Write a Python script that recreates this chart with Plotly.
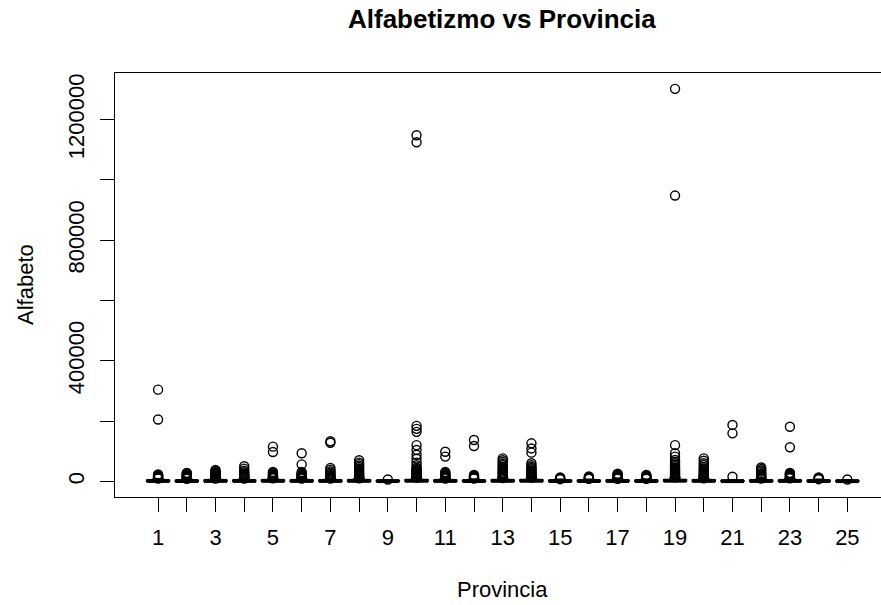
import plotly.graph_objects as go

provincias = list(range(1, 26))
tick_labels = [str(p) if p % 2 == 1 else "" for p in provincias]

# five-number summaries (box is tiny near zero)
q1 = [300, 250, 350, 300, 400, 350, 300, 400, 200, 500, 350, 250, 450, 500, 200, 250, 300, 250, 600, 400, 150, 300, 350, 200, 150]
mediana = [1200, 1000, 1300, 1200, 1500, 1300, 1200, 1500, 800, 1800, 1300, 1000, 1600, 1800, 900, 1000, 1100, 1000, 2000, 1400, 700, 1100, 1300, 900, 700]
q3 = [3500, 3000, 3800, 3500, 4200, 3800, 3500, 4300, 2200, 5000, 3700, 3000, 4500, 5000, 2800, 3000, 3200, 3000, 5500, 4000, 2000, 3300, 3800, 2800, 2000]
bigote_inf = [0] * 25
bigote_sup = [8000, 7000, 8500, 8000, 9500, 8500, 8000, 9500, 5000, 11000, 8500, 7000, 10000, 11000, 6500, 7000, 7500, 7000, 12000, 9000, 4500, 7500, 8500, 6500, 4500]

# outliers per province
atipicos = {
    1: [9000, 10500, 12000, 13500, 15000, 16500, 18000, 19500, 21000, 22500, 205000, 304000],
    2: [8000, 10000, 12000, 14000, 16000, 18000, 20000, 23000, 26000, 28000],
    3: [9000, 11000, 13000, 15000, 17000, 19000, 22000, 25000, 28000, 31000, 34000, 38000],
    4: [9000, 11000, 13000, 15000, 17000, 20000, 23000, 26000, 30000, 35000, 42000, 50000],
    5: [10000, 12000, 14000, 16000, 18000, 20000, 22000, 25000, 28000, 31000, 97000, 115000],
    6: [9000, 11000, 13000, 15000, 17000, 19000, 21000, 24000, 27000, 31000, 56000, 93000],
    7: [9000, 11000, 13000, 15000, 18000, 21000, 25000, 29000, 33000, 38000, 44000, 128000, 133000],
    8: [10000, 12000, 14000, 16000, 18000, 21000, 24000, 27000, 30000, 34000, 38000, 43000, 48000, 52000, 57000, 62000, 70000],
    9: [6000],
    10: [12000, 14000, 16000, 18000, 20000, 23000, 26000, 29000, 32000, 35000, 38000, 41000, 45000, 53000, 62000, 75000, 88000, 104000, 120000, 164000, 174000, 184000, 1125000, 1148000],
    11: [9000, 11000, 13000, 15000, 17000, 19000, 22000, 25000, 28000, 31000, 82000, 98000],
    12: [9000, 11000, 13000, 15000, 17000, 19000, 21000, 117000, 137000],
    13: [11000, 14000, 17000, 20000, 24000, 28000, 32000, 36000, 40000, 44000, 48000, 53000, 58000, 64000, 70000, 76000],
    14: [12000, 14000, 16000, 18000, 21000, 24000, 27000, 30000, 33000, 36000, 40000, 44000, 48000, 53000, 60000, 95000, 109000, 126000],
    15: [7000, 9000, 11000, 13000],
    16: [8000, 10000, 12000, 14000, 16000],
    17: [8000, 10000, 12000, 14000, 16000, 18000, 20000, 22000, 25000],
    18: [8000, 10000, 12000, 14000, 16000, 18000, 21000],
    19: [13000, 15000, 17000, 19000, 21000, 23000, 26000, 29000, 32000, 35000, 38000, 41000, 45000, 50000, 55000, 60000, 65000, 71000, 82000, 93000, 120000, 948000, 1302000],
    20: [10000, 12000, 14000, 16000, 18000, 20000, 23000, 26000, 30000, 34000, 39000, 43000, 48000, 54000, 60000, 68000, 76000],
    21: [15000, 159000, 187000],
    22: [9000, 11000, 13000, 15000, 18000, 21000, 24000, 27000, 32000, 36000, 41000, 46000],
    23: [10000, 12000, 14000, 16000, 18000, 20000, 22000, 24000, 26000, 28000, 113000, 181000],
    24: [7000, 9000, 11000, 13000],
    25: [6000],
}

y_ticks = [0, 200000, 400000, 600000, 800000, 1000000, 1200000]
y_ticktext = ["0", "", "400000", "", "800000", "", "1200000"]

FONT = "Liberation Sans, Arial, sans-serif"

fig = go.Figure()

fig.add_trace(go.Box(
    x=provincias, q1=q1, median=mediana, q3=q3,
    lowerfence=bigote_inf, upperfence=bigote_sup,
    boxpoints=False, width=0.8, whiskerwidth=0.5,
    fillcolor="white", line=dict(color="black", width=1.5),
    showlegend=False, hoverinfo="skip",
))

# thick median segments (R style)
mx, my = [], []
for p, m in zip(provincias, mediana):
    mx += [p - 0.4, p + 0.4, None]
    my += [m, m, None]
fig.add_trace(go.Scatter(x=mx, y=my, mode="lines",
                         line=dict(color="black", width=4),
                         showlegend=False, hoverinfo="skip"))

ox, oy = [], []
for p in provincias:
    for v in atipicos[p]:
        ox.append(p)
        oy.append(v)
fig.add_trace(go.Scatter(
    x=ox, y=oy, mode="markers",
    marker=dict(symbol="circle-open", size=9, color="black", line=dict(width=1.4, color="black")),
    showlegend=False, hoverinfo="skip",
))

W, H = 881, 605
L, R, T, B = 115, 0, 73, 108
pw = W - L - R
ph = H - T - B

fig.update_layout(
    width=W, height=H,
    margin=dict(l=L, r=R, t=T, b=B, pad=0),
    paper_bgcolor="white", plot_bgcolor="white",
    font=dict(family=FONT, size=22, color="black"),
    xaxis=dict(
        range=[-0.5, -0.5 + pw / 28.72],
        tickmode="array", tickvals=provincias, ticktext=tick_labels,
        ticks="outside", ticklen=14, tickwidth=1, tickcolor="black",
        showline=True, linecolor="black", linewidth=1.2, mirror=True,
        showgrid=False, zeroline=False, ticklabelstandoff=6,
        tickfont=dict(family=FONT, size=22, color="black"),
    ),
    yaxis=dict(
        range=[-52100, 1354600],
        tickmode="array", tickvals=y_ticks, ticktext=y_ticktext,
        ticks="outside", ticklen=14, tickwidth=1, tickcolor="black",
        showline=True, linecolor="black", linewidth=1.2, mirror=False,
        showgrid=False, zeroline=False, tickangle=-90, ticklabelstandoff=7,
        tickfont=dict(family=FONT, size=22, color="black"),
    ),
    annotations=[
        dict(text="<b>Alfabetizmo vs Provincia</b>", xref="paper", yref="paper",
             x=(502 - L) / pw, y=1 + (T - 19) / ph, xanchor="center", yanchor="middle",
             showarrow=False, font=dict(family=FONT, size=26, color="black")),
        dict(text="Provincia", xref="paper", yref="paper",
             x=(502 - L) / pw, y=-(589 - (T + ph)) / ph, xanchor="center", yanchor="middle",
             showarrow=False, font=dict(family=FONT, size=22, color="black")),
        dict(text="Alfabeto", xref="paper", yref="paper",
             x=(25 - L) / pw, y=0.5, xanchor="center", yanchor="middle", textangle=-90,
             showarrow=False, font=dict(family=FONT, size=22, color="black")),
    ],
)

fig.write_html("out.html")
